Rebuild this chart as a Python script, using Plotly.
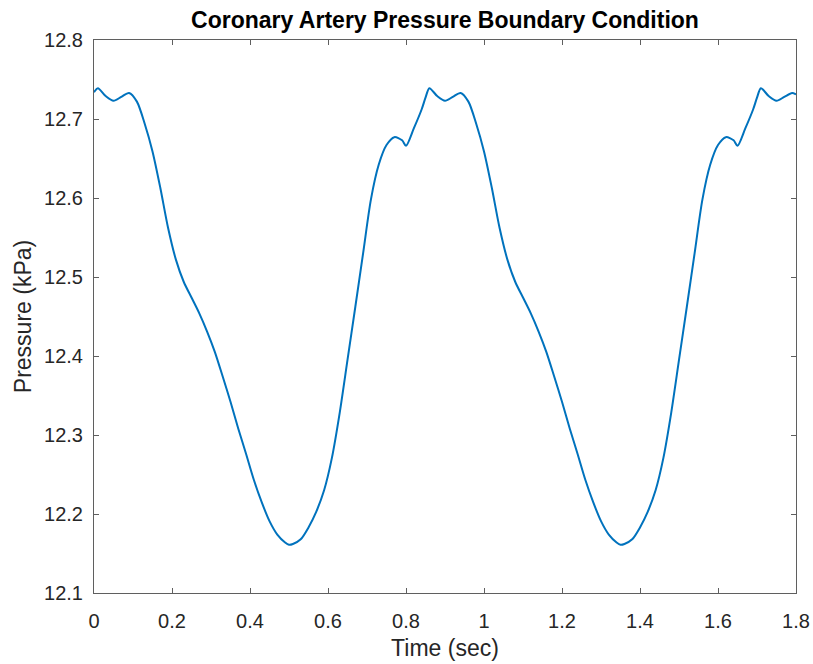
import plotly.graph_objects as go

time_sec = [
    0.00, 0.01, 0.03, 0.05, 0.07, 0.09, 0.11, 0.13, 0.15, 0.17, 0.19, 0.21, 0.23, 0.25,
    0.27, 0.29, 0.31, 0.33, 0.35, 0.37, 0.39, 0.41, 0.43, 0.45, 0.47, 0.49, 0.50, 0.51,
    0.53, 0.55, 0.57, 0.59, 0.61, 0.63, 0.65, 0.67, 0.69, 0.71, 0.73, 0.75, 0.77, 0.79,
    0.80, 0.82, 0.84,
    0.85, 0.86, 0.88, 0.90, 0.92, 0.94, 0.96, 0.98, 1.00, 1.02, 1.04, 1.06, 1.08, 1.10,
    1.12, 1.14, 1.16, 1.18, 1.20, 1.22, 1.24, 1.26, 1.28, 1.30, 1.32, 1.34, 1.35, 1.36,
    1.38, 1.40, 1.42, 1.44, 1.46, 1.48, 1.50, 1.52, 1.54, 1.56, 1.58, 1.60, 1.62, 1.64,
    1.65, 1.67, 1.69,
    1.70, 1.71, 1.73, 1.75, 1.77, 1.79, 1.80,
]

pressure_kpa = [
    12.734, 12.739, 12.729, 12.723, 12.728, 12.733, 12.722, 12.694, 12.659, 12.613, 12.562, 12.522, 12.494, 12.474,
    12.454, 12.431, 12.405, 12.374, 12.342, 12.308, 12.276, 12.243, 12.215, 12.191, 12.174, 12.164, 12.161, 12.162,
    12.168, 12.183, 12.203, 12.230, 12.271, 12.328, 12.395, 12.462, 12.530, 12.598, 12.642, 12.667, 12.677, 12.673,
    12.666, 12.688, 12.712,
    12.727, 12.739, 12.729, 12.723, 12.728, 12.733, 12.722, 12.694, 12.659, 12.613, 12.562, 12.522, 12.494, 12.474,
    12.454, 12.431, 12.405, 12.374, 12.342, 12.308, 12.276, 12.243, 12.215, 12.191, 12.174, 12.164, 12.161, 12.162,
    12.168, 12.183, 12.203, 12.230, 12.271, 12.328, 12.395, 12.462, 12.530, 12.598, 12.642, 12.667, 12.677, 12.673,
    12.666, 12.688, 12.712,
    12.727, 12.739, 12.729, 12.723, 12.728, 12.733, 12.731,
]

x_ticks = [0, 0.2, 0.4, 0.6, 0.8, 1.0, 1.2, 1.4, 1.6, 1.8]
x_tick_labels = ["0", "0.2", "0.4", "0.6", "0.8", "1", "1.2", "1.4", "1.6", "1.8"]
y_ticks = [12.1, 12.2, 12.3, 12.4, 12.5, 12.6, 12.7, 12.8]
y_tick_labels = ["12.1", "12.2", "12.3", "12.4", "12.5", "12.6", "12.7", "12.8"]

FONT = "Liberation Sans, Arial, sans-serif"
AXCOL = "#5f5f5f"
TXT = "#262626"

fig = go.Figure()
fig.add_trace(go.Scatter(
    x=time_sec, y=pressure_kpa, mode="lines",
    line=dict(color="#0072BD", width=2, shape="spline", smoothing=0.8),
    showlegend=False,
))

axis_common = dict(
    showgrid=False, zeroline=False, showline=True, linecolor=AXCOL, linewidth=1,
    mirror="ticks", ticks="inside", ticklen=5, tickcolor=AXCOL, tickwidth=1,
    tickfont=dict(family=FONT, size=20, color=TXT), automargin=False,
)

fig.update_layout(
    width=813, height=664,
    margin=dict(l=94, r=17, t=40, b=71, autoexpand=False),
    paper_bgcolor="white", plot_bgcolor="white",
    title=dict(text="<b>Coronary Artery Pressure Boundary Condition</b>",
               x=(94 + 796) / 2 / 813, xanchor="center", y=1 - 20 / 664, yanchor="middle",
               font=dict(family=FONT, size=23, color="black")),
    xaxis=dict(range=[0, 1.8], tickvals=x_ticks, ticktext=x_tick_labels, ticklabelstandoff=10,
               title=dict(text="Time (sec)", font=dict(family=FONT, size=23, color=TXT), standoff=8),
               **axis_common),
    yaxis=dict(range=[12.1, 12.8], tickvals=y_ticks, ticktext=y_tick_labels, ticklabelstandoff=6,
               title=dict(text="Pressure (kPa)", font=dict(family=FONT, size=23, color=TXT), standoff=6),
               **axis_common),
)

fig.write_html("out.html")
